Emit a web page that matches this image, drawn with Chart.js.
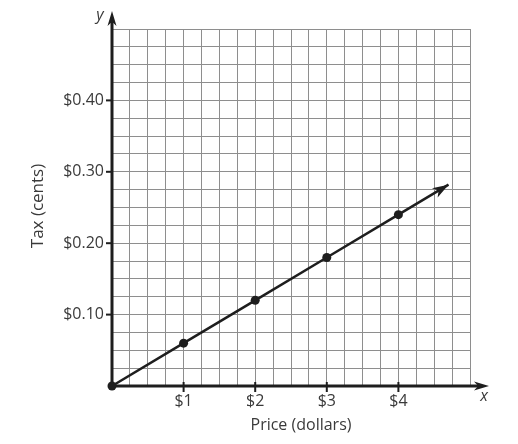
<!DOCTYPE html>
<html>
<head>
<meta charset="utf-8">
<script src="https://cdn.jsdelivr.net/npm/chart.js@4"></script>
<style>
  html, body { margin: 0; padding: 0; background: #fff; }
  #wrap { width: 518px; height: 444px; }
</style>
</head>
<body>
<div id="wrap"><canvas id="c" width="518" height="444"></canvas></div>
<script>
// ---- data ----
const priceDollars = [0, 1, 2, 3, 4];
const taxDollars   = [0, 0.06, 0.12, 0.18, 0.24];
const arrowEnd     = [4.7, 0.282];          // end of the arrowed line
const xTickValues  = [1, 2, 3, 4];
const xTickLabels  = ['$1', '$2', '$3', '$4'];
const yTickValues  = [0.1, 0.2, 0.3, 0.4];
const yTickLabels  = ['$0.10', '$0.20', '$0.30', '$0.40'];
const xMax = 5, xGridStep = 0.25;
const yMax = 0.5, yGridStep = 0.025;
const xTitle = 'Price (dollars)';
const yTitle = 'Tax (cents)';

const FONT = '"Open Sans", "Liberation Sans", sans-serif';
const TEXT = '#3a3a3a';
const INK = '#1e1e1e';

function gridValues(max, step) {
  const n = Math.round(max / step), out = [];
  for (let i = 0; i <= n; i++) out.push(+(i * step).toFixed(6));
  return out;
}
function labelFor(values, labels, v) {
  const i = values.findIndex(t => Math.abs(t - v) < 1e-6);
  return i >= 0 ? labels[i] : '';
}

function arrowHead(ctx, tx, ty, angle, len, half) {
  ctx.save();
  ctx.translate(tx, ty);
  ctx.rotate(angle);
  ctx.beginPath();
  ctx.moveTo(0, 0);
  ctx.lineTo(-len, -half);
  ctx.lineTo(-len * 0.72, 0);
  ctx.lineTo(-len, half);
  ctx.closePath();
  ctx.fill();
  ctx.restore();
}

const decor = {
  id: 'decor',
  beforeDatasetsDraw(chart) {
    const ctx = chart.ctx, xs = chart.scales.x, ys = chart.scales.y;
    const x0 = xs.getPixelForValue(0), y0 = ys.getPixelForValue(0);
    ctx.save();
    ctx.strokeStyle = INK; ctx.fillStyle = INK;
    ctx.lineWidth = 3;
    // y axis
    ctx.beginPath(); ctx.moveTo(x0, y0 + 1.5); ctx.lineTo(x0, 20); ctx.stroke();
    arrowHead(ctx, x0, 11, -Math.PI / 2, 15, 4.5);
    // x axis
    ctx.beginPath(); ctx.moveTo(x0 - 1.5, y0); ctx.lineTo(480, y0); ctx.stroke();
    arrowHead(ctx, 489, y0, 0, 15, 4.5);
    // tick marks
    ctx.lineWidth = 2;
    yTickValues.forEach(v => {
      const p = ys.getPixelForValue(v);
      ctx.beginPath(); ctx.moveTo(x0 - 6, p); ctx.lineTo(x0, p); ctx.stroke();
    });
    xTickValues.forEach(v => {
      const p = xs.getPixelForValue(v);
      ctx.beginPath(); ctx.moveTo(p, y0 - 4); ctx.lineTo(p, y0 + 6); ctx.stroke();
    });
    // axis letters
    ctx.fillStyle = TEXT;
    ctx.font = 'italic 16px ' + FONT;
    ctx.textAlign = 'center'; ctx.textBaseline = 'middle';
    ctx.fillText('y', 100, 15);
    ctx.fillText('x', 484, 396);
    // titles
    ctx.font = '16px ' + FONT;
    ctx.fillText(xTitle, 301, 425);
    ctx.save();
    ctx.translate(38, 206);
    ctx.rotate(-Math.PI / 2);
    ctx.font = '17px ' + FONT;
    ctx.fillText(yTitle, 0, 0);
    ctx.restore();
    ctx.restore();
  },
  afterDatasetsDraw(chart) {
    const ctx = chart.ctx, xs = chart.scales.x, ys = chart.scales.y;
    const n = priceDollars.length;
    const ax = xs.getPixelForValue(priceDollars[n - 1]), ay = ys.getPixelForValue(taxDollars[n - 1]);
    const tx = xs.getPixelForValue(arrowEnd[0]), ty = ys.getPixelForValue(arrowEnd[1]);
    ctx.save();
    ctx.fillStyle = INK;
    arrowHead(ctx, tx, ty, Math.atan2(ty - ay, tx - ax), 16, 5.5);
    ctx.restore();
  }
};

const linePts = priceDollars.map((x, i) => ({ x, y: taxDollars[i] }));
linePts.push({ x: arrowEnd[0], y: arrowEnd[1] });

new Chart(document.getElementById('c'), {
  type: 'scatter',
  data: {
    datasets: [{
      data: linePts,
      showLine: true,
      borderColor: INK,
      borderWidth: 2.5,
      backgroundColor: INK,
      pointRadius: linePts.map((p, i) => i < priceDollars.length ? 4.5 : 0),
      pointBorderWidth: 0,
      clip: false
    }]
  },
  options: {
    responsive: false,
    animation: false,
    events: [],
    layout: { padding: { top: 29, right: 48, left: 0, bottom: 0 } },
    plugins: { legend: { display: false }, tooltip: { enabled: false } },
    scales: {
      x: {
        type: 'linear', min: 0, max: xMax,
        afterBuildTicks: s => { s.ticks = gridValues(xMax, xGridStep).map(v => ({ value: v })); },
        afterFit: s => { s.height = 58; },
        border: { display: false },
        grid: { color: '#8e8e8e', lineWidth: 1, drawTicks: false },
        ticks: {
          autoSkip: false, maxRotation: 0, padding: 6,
          color: TEXT, font: { family: FONT, size: 16 },
          callback: v => labelFor(xTickValues, xTickLabels, v)
        }
      },
      y: {
        type: 'linear', min: 0, max: yMax,
        afterBuildTicks: s => { s.ticks = gridValues(yMax, yGridStep).map(v => ({ value: v })); },
        afterFit: s => { s.width = 112; },
        border: { display: false },
        grid: { color: '#8e8e8e', lineWidth: 1, drawTicks: false },
        ticks: {
          autoSkip: false, padding: 8,
          color: TEXT, font: { family: FONT, size: 16 },
          callback: v => labelFor(yTickValues, yTickLabels, v)
        }
      }
    }
  },
  plugins: [decor]
});
</script>
</body>
</html>
